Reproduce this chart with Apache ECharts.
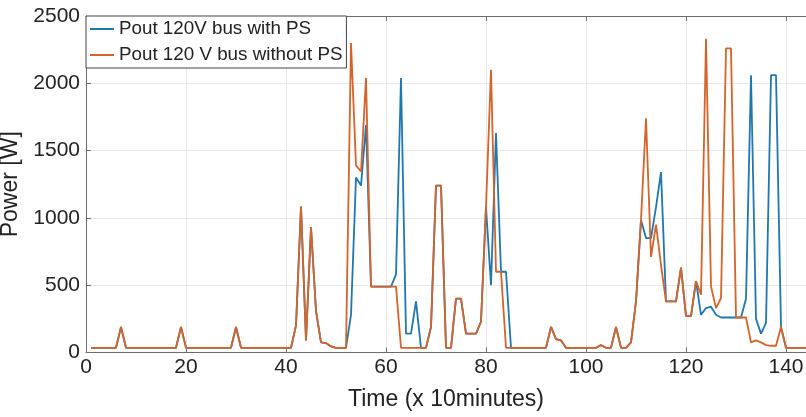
<!DOCTYPE html>
<html>
<head>
<meta charset="utf-8">
<script src="https://cdn.jsdelivr.net/npm/echarts@6/dist/echarts.min.js"></script>
<style>html,body{margin:0;padding:0;background:#fff}#c{width:806px;height:417px}</style>
</head>
<body>
<div id="c"></div>
<script>
// time steps (x 10 minutes)
var timeSteps = [1,2,3,4,5,6,7,8,9,10,11,12,13,14,15,16,17,18,19,20,21,22,23,24,25,26,27,28,29,30,
31,32,33,34,35,36,37,38,39,40,41,42,43,44,45,46,47,48,49,50,51,52,53,54,55,56,57,58,59,60,
61,62,63,64,65,66,67,68,69,70,71,72,73,74,75,76,77,78,79,80,81,82,83,84,85,86,87,88,89,90,
91,92,93,94,95,96,97,98,99,100,101,102,103,104,105,106,107,108,109,110,111,112,113,114,115,116,117,118,119,120,
121,122,123,124,125,126,127,128,129,130,131,132,133,134,135,136,137,138,139,140,141,142,143,144];

// Pout 120V bus with PS
var withPS = [
35,35,35,35,35,35,190,35,35,35, 35,35,35,35,35,35,35,35,190,35,
35,35,35,35,35,35,35,35,35,190, 35,35,35,35,35,35,35,35,35,35,
35,200,1085,90,930,310,75,70,45,35, 35,35,280,1300,1240,1690,490,490,490,490,
490,580,2040,140,140,380,35,35,190,1240, 1240,35,35,400,400,140,140,140,230,1080,
500,1630,600,600,35,35,35,35,35,35, 35,35,190,100,90,35,35,35,35,35,
35,35,55,35,35,190,35,35,75,380, 985,850,850,1080,1340,380,380,380,630,270,
270,530,280,330,340,280,260,260,260,260, 260,400,2060,250,140,220,2060,2060,190,35,
35,35,35,35];

// Pout 120 V bus without PS
var withoutPS = [
35,35,35,35,35,35,190,35,35,35, 35,35,35,35,35,35,35,35,190,35,
35,35,35,35,35,35,35,35,35,190, 35,35,35,35,35,35,35,35,35,35,
35,200,1085,90,930,310,75,70,45,35, 35,35,2300,1390,1345,2040,490,490,490,490,
490,490,35,35,35,35,35,35,190,1240, 1240,35,35,400,400,140,140,140,230,1080,
2100,600,600,35,35,35,35,35,35,35, 35,35,190,100,90,35,35,35,35,35,
35,35,55,35,35,190,35,35,75,380, 985,1740,710,950,650,380,380,380,630,270,
270,530,430,2330,490,330,405,2260,2260,260, 260,260,75,90,75,55,50,50,190,35,
35,35,35,35];

var xTicks = [0,20,40,60,80,100,120,140];
var yTicks = [0,500,1000,1500,2000,2500];

function pairs(vals){ return vals.map(function(v,i){ return [timeSteps[i], v]; }); }
function plain(v){ return String(v); }

var FONT = 'Liberation Sans';
var chart = echarts.init(document.getElementById('c'), null, {renderer:'canvas'});
chart.setOption({
  animation: false,
  backgroundColor: '#fff',
  grid: {left: 86, right: 0, top: 16, bottom: 64.5, containLabel: false, outerBoundsMode: 'none'},
  legend: {
    orient: 'vertical', left: 86, top: 16,
    padding: [3, 4, 3, 4], itemGap: 6,
    itemWidth: 24, itemHeight: 2, icon: 'rect',
    borderColor: '#444', borderWidth: 1, backgroundColor: '#fff',
    textStyle: {fontSize: 18.8, fontFamily: FONT, color: '#222', lineHeight: 20},
    data: ['Pout 120V bus with PS', 'Pout 120 V bus without PS']
  },
  xAxis: [{
    type: 'value', min: xTicks[0], max: 144, interval: 20,
    name: 'Time (x 10minutes)', nameLocation: 'middle', nameGap: 36,
    nameTextStyle: {fontSize: 23, fontFamily: FONT, color: '#222'},
    axisLine: {show: true, lineStyle: {color: '#6e6e6e', width: 1}},
    axisTick: {show: true, inside: true, length: 5, lineStyle: {color: '#6e6e6e'}},
    axisLabel: {fontSize: 21, fontFamily: FONT, color: '#222', margin: 4, showMaxLabel: false, formatter: plain},
    splitLine: {show: true, lineStyle: {color: '#e8e8e8', width: 1}}
  }, {
    type: 'value', min: xTicks[0], max: 144, interval: 20, position: 'top',
    axisLine: {show: true, onZero: false, lineStyle: {color: '#6e6e6e', width: 1}},
    axisTick: {show: true, inside: true, length: 5, lineStyle: {color: '#6e6e6e'}},
    axisLabel: {show: false}, splitLine: {show: false}
  }],
  yAxis: {
    type: 'value', min: yTicks[0], max: yTicks[yTicks.length-1], interval: 500,
    name: 'Power [W]', nameLocation: 'middle', nameGap: 57,
    nameTextStyle: {fontSize: 23, fontFamily: FONT, color: '#222'},
    axisLine: {show: true, lineStyle: {color: '#6e6e6e', width: 1}},
    axisTick: {show: true, inside: true, length: 5, lineStyle: {color: '#6e6e6e'}},
    axisLabel: {fontSize: 21, fontFamily: FONT, color: '#222', margin: 6, formatter: plain},
    splitLine: {show: true, lineStyle: {color: '#e8e8e8', width: 1}}
  },
  series: [{
    name: 'Pout 120V bus with PS', type: 'line', data: pairs(withPS),
    showSymbol: false, symbol: 'none', color: '#2077b0',
    lineStyle: {width: 1.8, color: '#2077b0'}
  }, {
    name: 'Pout 120 V bus without PS', type: 'line', data: pairs(withoutPS),
    showSymbol: false, symbol: 'none', color: '#d4642b',
    lineStyle: {width: 1.8, color: '#d4642b'}
  }]
});
</script>
</body>
</html>
